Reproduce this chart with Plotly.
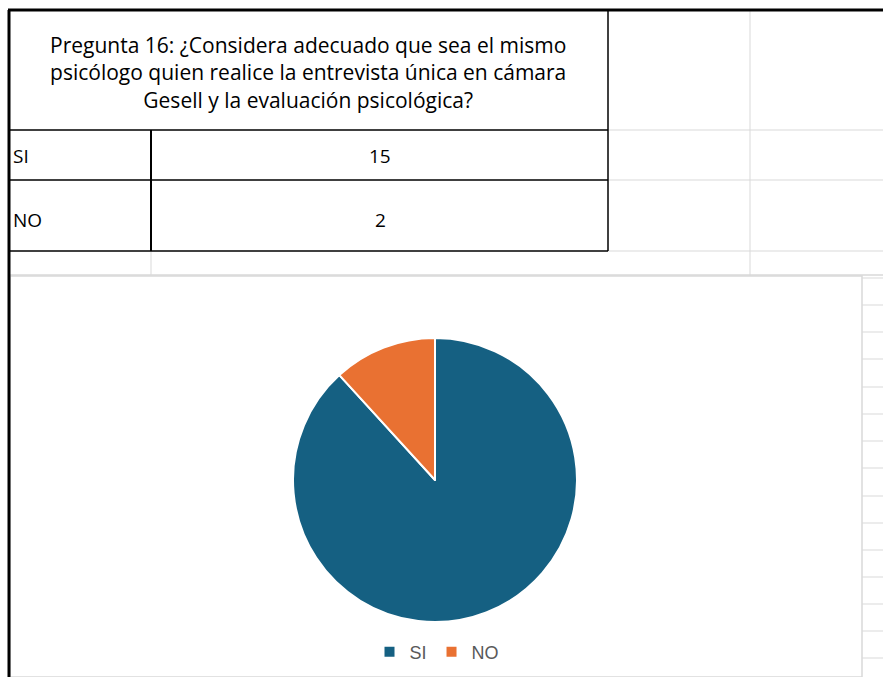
import plotly.graph_objects as go

W, H = 883, 677

question_lines = [
    "Pregunta 16: ¿Considera adecuado que sea el mismo",
    "psicólogo quien realice la entrevista única en cámara",
    "Gesell y la evaluación psicológica?",
]
categories = ["SI", "NO"]
values = [15, 2]
colors = ["#156082", "#E97132"]

def px(x):
    return x / W

def py(y):
    return 1 - y / H

shapes = []

def line(x0, y0, x1, y1, color="black", width=1.5):
    shapes.append(dict(type="line", xref="paper", yref="paper",
                       x0=px(x0), y0=py(y0), x1=px(x1), y1=py(y1),
                       line=dict(color=color, width=width), layer="below"))

grey = "#D9D9D9"
# spreadsheet gridlines
line(608, 130, 883, 130, grey, 1)
line(608, 180, 883, 180, grey, 1)
line(608, 251, 883, 251, grey, 1)
line(750, 10, 750, 276, grey, 1)
line(10, 275, 883, 275, grey, 1.5)
line(151, 251, 151, 275, grey, 1)
for yy in [278, 305, 332, 359, 387, 414, 441, 468, 496, 523, 550, 577, 604, 631, 658]:
    line(862, yy, 883, yy, grey, 1)

# chart area
shapes.append(dict(type="rect", xref="paper", yref="paper",
                   x0=px(10), y0=py(677), x1=px(862), y1=py(276),
                   fillcolor="white", line=dict(color=grey, width=1.5), layer="below"))

# table borders
line(8, 10, 883, 10, "black", 3)
line(9, 10, 9, 677, "black", 3)
line(10, 130, 608, 130, "black", 1.5)
line(10, 180, 608, 180, "black", 1.5)
line(10, 251, 608, 251, "black", 1.5)
line(608, 10, 608, 251, "black", 1.5)
line(151, 130, 151, 251, "black", 2)

annotations = []
font_t = "Open Sans, sans-serif"
annotations.append(dict(text="<br>".join(question_lines), xref="paper", yref="paper",
                        x=px(308), y=py(72), xanchor="center", yanchor="middle",
                        align="center", showarrow=False,
                        font=dict(family=font_t, size=21, color="black")))
row_y = [156, 220]
for cat, v, yy in zip(categories, values, row_y):
    annotations.append(dict(text=cat, xref="paper", yref="paper", x=px(11), y=py(yy),
                            xanchor="left", yanchor="middle", showarrow=False,
                            font=dict(family=font_t, size=19, color="black")))
    annotations.append(dict(text=str(v), xref="paper", yref="paper", x=px(380), y=py(yy),
                            xanchor="center", yanchor="middle", showarrow=False,
                            font=dict(family=font_t, size=19, color="black")))

cx, cy, r = 435, 480, 142
fig = go.Figure(go.Pie(
    labels=categories, values=values, sort=False, direction="clockwise", rotation=0,
    marker=dict(colors=colors, line=dict(color="white", width=2)),
    textinfo="none", hoverinfo="label+value",
    domain=dict(x=[px(cx - r), px(cx + r)], y=[py(cy + r), py(cy - r)]),
))

fig.update_layout(
    width=W, height=H, margin=dict(l=0, r=0, t=0, b=0),
    paper_bgcolor="white", plot_bgcolor="white",
    shapes=shapes, annotations=annotations,
    showlegend=True,
    legend=dict(orientation="h", x=px(437), xanchor="center", y=py(652), yanchor="middle",
                font=dict(family="Liberation Sans, Arial, sans-serif", size=18, color="#595959"),
                itemwidth=30, bgcolor="rgba(0,0,0,0)"),
)

fig.write_html("out.html")
